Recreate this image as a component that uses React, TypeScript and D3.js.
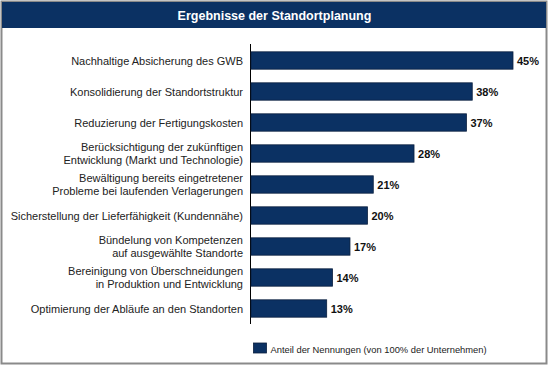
import React from "react";
import * as d3 from "d3";

const categories: string[][] = [
  ["Nachhaltige Absicherung des GWB"],
  ["Konsolidierung der Standortstruktur"],
  ["Reduzierung der Fertigungskosten"],
  ["Berücksichtigung der zukünftigen", "Entwicklung (Markt und Technologie)"],
  ["Bewältigung bereits eingetretener", "Probleme bei laufenden Verlagerungen"],
  ["Sicherstellung der Lieferfähigkeit (Kundennähe)"],
  ["Bündelung von Kompetenzen", "auf ausgewählte Standorte"],
  ["Bereinigung von Überschneidungen", "in Produktion und Entwicklung"],
  ["Optimierung der Abläufe an den Standorten"],
];
const values: number[] = [45, 38, 37, 28, 21, 20, 17, 14, 13];
const title = "Ergebnisse der Standortplanung";
const legendLabel = "Anteil der Nennungen (von 100% der Unternehmen)";

const W = 549;
const H = 366;
const NAVY = "#0b3163";
const FONT = "Arial, 'Liberation Sans', sans-serif";

export default function App() {
  const x0 = 251;
  const x = d3.scaleLinear().domain([0, 45]).range([x0, 513]);
  const idx = d3.range(categories.length).map(String);
  const y = d3.scaleBand().domain(idx).range([45, 324]).paddingInner(0.44).paddingOuter(0.22);

  return (
    <svg
      width={W}
      height={H}
      style={{ position: "absolute", left: 0, top: 0, background: "#fff" }}
      fontFamily={FONT}
    >
      <rect x={1.5} y={1.5} width={W - 4} height={H - 4} fill="#fff" stroke="#8a8a8a" strokeWidth={2} />
      <rect x={2} y={2} width={W - 5} height={26} fill={NAVY} />
      <text x={W / 2} y={19.5} textAnchor="middle" fill="#fff" fontSize={12.5} fontWeight="bold">
        {title}
      </text>
      <line x1={x0 - 0.5} x2={x0 - 0.5} y1={44} y2={324} stroke="#000" strokeWidth={1} />
      {values.map((v, i) => {
        const yy = y(String(i))!;
        const bh = y.bandwidth();
        const lines = categories[i];
        const cy = yy + bh / 2;
        return (
          <g key={i}>
            <rect x={x0} y={yy} width={x(v) - x0} height={bh} fill={NAVY} stroke="#0a1f3f" strokeWidth={0.8} />
            <text x={x(v) + 4} y={cy + 4} fontSize={11} fontWeight="bold" fill="#111">
              {v}%
            </text>
            {lines.map((l, j) => (
              <text
                key={j}
                x={243}
                y={cy + 4 + (j - (lines.length - 1) / 2) * 13.5}
                textAnchor="end"
                fontSize={11}
                fill="#222"
              >
                {l}
              </text>
            ))}
          </g>
        );
      })}
      <rect x={253.5} y={343} width={13} height={10} fill={NAVY} stroke="#0a1f3f" strokeWidth={0.8} />
      <text x={270.5} y={352.5} fontSize={9.35} fill="#222">
        {legendLabel}
      </text>
    </svg>
  );
}
